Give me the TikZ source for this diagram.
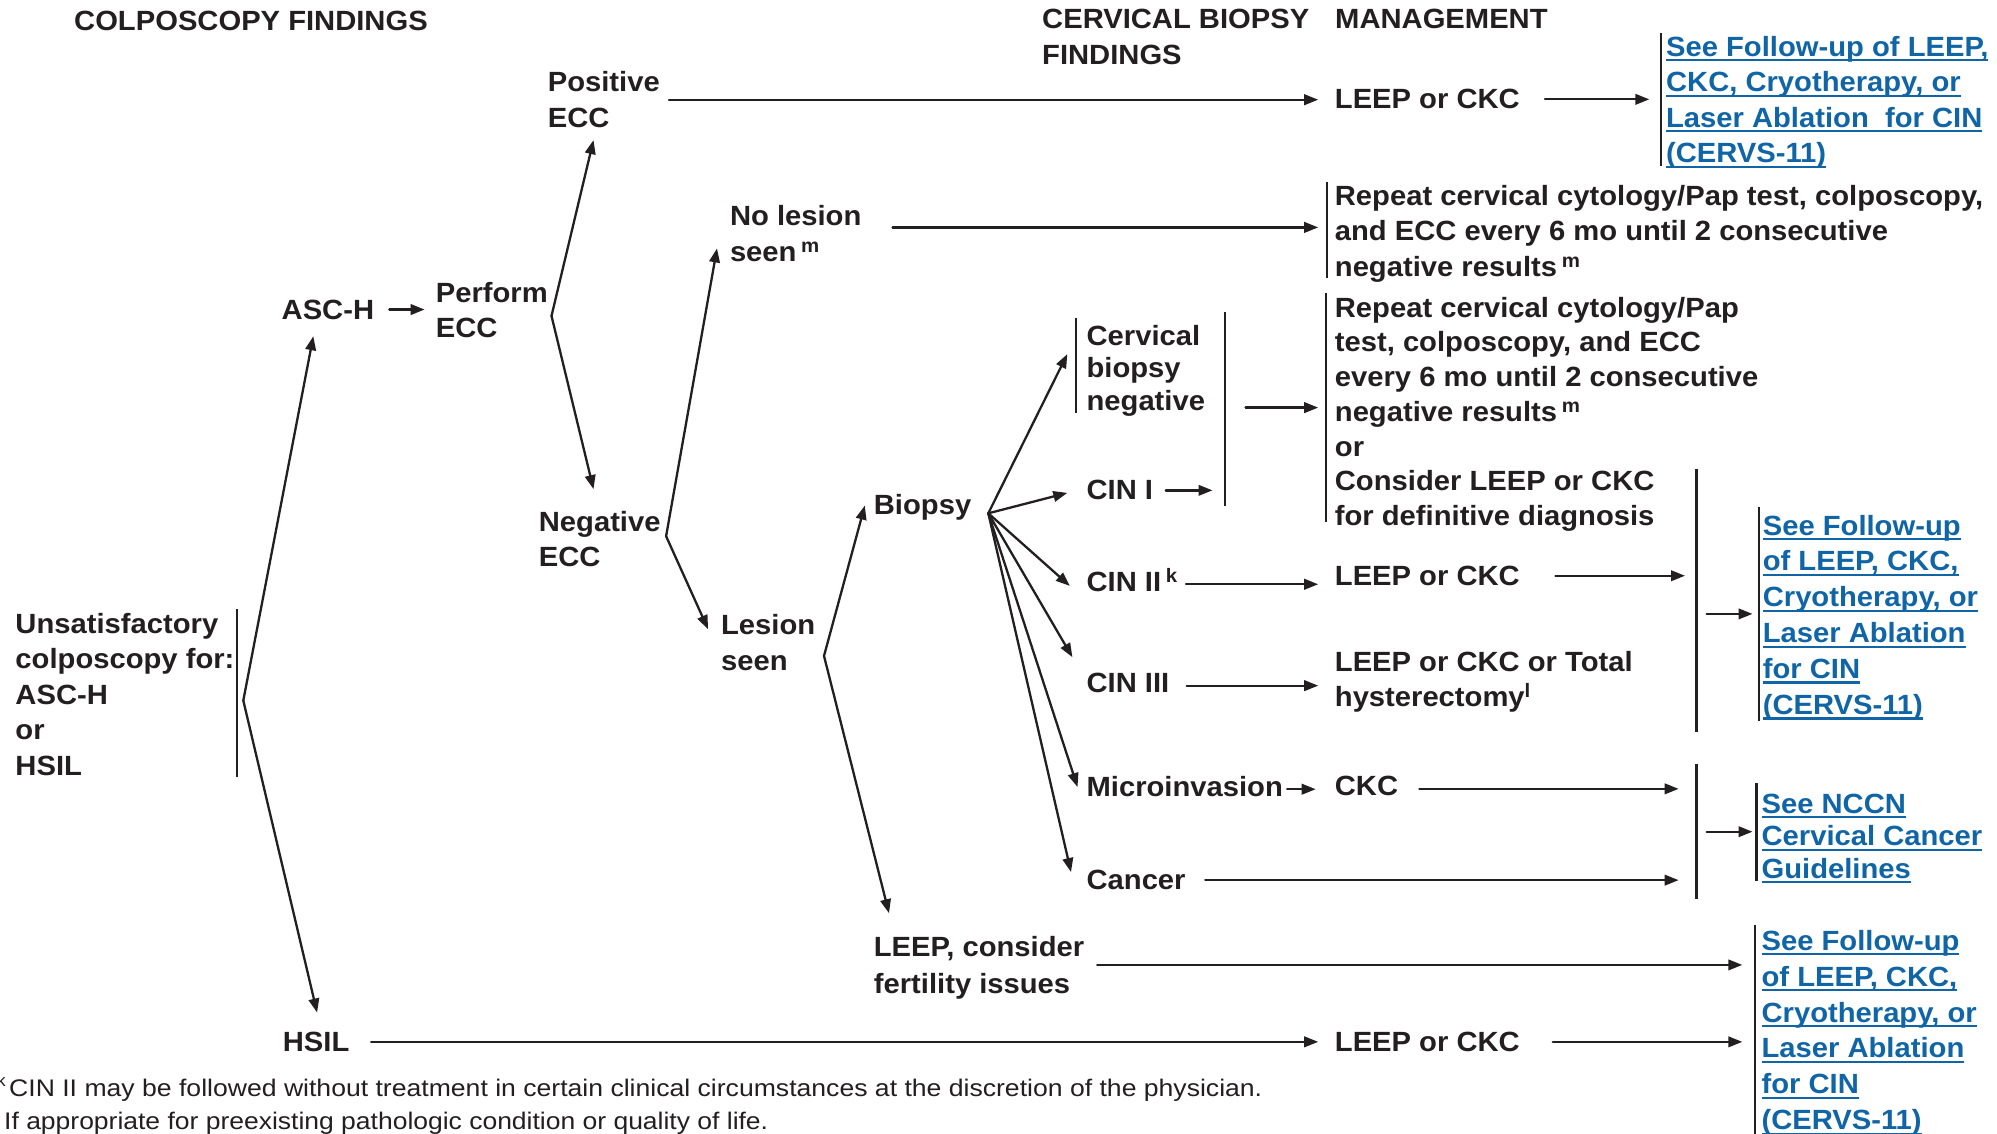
\documentclass[tikz,border=0pt]{standalone}
\usepackage{fontspec}
\setmainfont{Liberation Sans}[FakeStretch=1.05]
\usepackage{graphicx}
\usetikzlibrary{arrows.meta,calc}
\definecolor{ink}{HTML}{231F20}
\definecolor{linkblue}{HTML}{0F65A5}

% underlined cross-reference line
\newcommand{\ulk}[1]{\leavevmode\setbox0\hbox{#1}\rlap{\rule[-5pt]{\wd0}{2.2pt}}\box0}

\tikzset{
  lbl/.style={inner sep=0pt, anchor=north west, align=left, text=ink,
    font=\fontsize{27.8}{35.6}\selectfont\bfseries},
  lbl1/.style={lbl, anchor=base west},
  link/.style={lbl, text=linkblue},
  note/.style={inner sep=0pt, anchor=base west, text=ink,
    font=\fontsize{24}{30}\selectfont},
  flow/.style={draw=ink, line width=2.3pt, line cap=round,
    -{Triangle[length=14pt,width=10.5pt]}},
  brace/.style={draw=ink, line width=2.4pt},
}

\begin{document}
\begin{tikzpicture}[x=1pt,y=-1pt]
\fill[white] (0,0) rectangle (1997,1133);
\useasboundingbox (0,0) rectangle (1997,1133);

% column headings
\node[lbl] (hdrFind) at (74,10.4) {COLPOSCOPY FINDINGS};
\node[lbl] (hdrBiop) at (1042,9.1) {CERVICAL BIOPSY\\FINDINGS};
\node[lbl] (hdrMgmt) at (1335,9.1) {MANAGEMENT};

% colposcopy findings
\node[lbl] (unsat) at (15.3,612.8) {Unsatisfactory\\colposcopy for:\\ASC-H\\or\\HSIL};
\node[lbl] (asch) at (281.5,299.5) {ASC-H};
\node[lbl] (perf) at (435.6,281.7) {Perform\\ECC};
\node[lbl] (posecc) at (547.6,71.5) {Positive\\ECC};
\node[lbl] (negecc) at (538.7,510.9) {Negative\\ECC};
\node[lbl] (noles) at (729.8,205.2) {No lesion\\seen\,\textsuperscript{m}};
\node[lbl] (lesion) at (720.9,614.1) {Lesion\\seen};
\node[lbl] (biopsy) at (873.7,494.3) {Biopsy};
\node[lbl] (hsil) at (282.7,1031.8) {HSIL};
\node[lbl, font=\fontsize{27.8}{36.9}\selectfont\bfseries] (leepcf) at (873.7,936.3) {LEEP, consider\\fertility issues};

% cervical biopsy findings
\node[lbl, font=\fontsize{27.8}{32.5}\selectfont\bfseries] (cbneg) at (1086.4,325) {Cervical\\biopsy\\negative};
\node[lbl] (cin1) at (1086.4,480.3) {CIN I};
\node[lbl1] (cin2) at (1086.4,591.7) {CIN II\,\textsuperscript{k}};
\node[lbl] (cin3) at (1086.4,672.6) {CIN III};
\node[lbl] (micro) at (1086.4,775.8) {Microinvasion};
\node[lbl] (cancer) at (1086.4,870.1) {Cancer};

% management
\node[lbl] (leep1) at (1334.7,89.3) {LEEP or CKC};
\node[lbl] (rep1) at (1334.7,184.9) {Repeat cervical cytology/Pap test, colposcopy,\\and ECC every 6 mo until 2 consecutive\\negative results\,\textsuperscript{m}};
\node[lbl, font=\fontsize{27.8}{34.7}\selectfont\bfseries] (rep2) at (1334.7,296.9) {Repeat cervical cytology/Pap\\test, colposcopy, and ECC\\every 6 mo until 2 consecutive\\negative results\,\textsuperscript{m}\\or\\Consider LEEP or CKC\\for definitive diagnosis};
\node[lbl] (leep2) at (1334.7,565.7) {LEEP or CKC};
\node[lbl] (leep3) at (1334.7,651) {LEEP or CKC or Total\\hysterectomy\textsuperscript{l}};
\node[lbl] (ckc) at (1334.7,775.8) {CKC};
\node[lbl] (leep4) at (1334.7,1031.8) {LEEP or CKC};

% cross-references
\node[link] (link1) at (1665.9,35.8) {\ulk{See Follow-up of LEEP,}\\\ulk{CKC, Cryotherapy, or}\\\ulk{Laser Ablation\ \ for CIN}\\\ulk{(CERVS-11)}};
\node[link, font=\fontsize{27.8}{35.9}\selectfont\bfseries] (link2) at (1762.6,514.7) {\ulk{See Follow-up}\\\ulk{of LEEP, CKC,}\\\ulk{Cryotherapy, or}\\\ulk{Laser Ablation}\\\ulk{for CIN}\\\ulk{(CERVS-11)}};
\node[link, font=\fontsize{27.8}{32.5}\selectfont\bfseries] (link3) at (1761.4,793.6) {\ulk{See NCCN}\\\ulk{Cervical Cancer}\\\ulk{Guidelines}};
\node[link, font=\fontsize{27.8}{35.9}\selectfont\bfseries] (link4) at (1761.4,929.9) {\ulk{See Follow-up}\\\ulk{of LEEP, CKC,}\\\ulk{Cryotherapy, or}\\\ulk{Laser Ablation}\\\ulk{for CIN}\\\ulk{(CERVS-11)}};

% footnotes (their markers run off the left edge)
\node[note] (fnk) at (9,1096) {\llap{\textsuperscript{k}\kern3pt}\resizebox{1253pt}{\height}{CIN II may be followed without treatment in certain clinical circumstances at the discretion of the physician.}};
\node[note] (fnl) at (4,1129) {\llap{\textsuperscript{l}\kern4pt}\resizebox{764pt}{\height}{If appropriate for preexisting pathologic condition or quality of life.}};

% branch points, arrow targets and bracket midpoints
\coordinate (b0) at (243.3,700.5);
\coordinate (tAsch) at (313.3,336.2);
\coordinate (tHsil) at (317.1,1012.5);
\coordinate (b1) at (551.5,315.9);
\coordinate (tPos) at (593.5,140.1);
\coordinate (tNeg) at (593.5,489.1);
\coordinate (b2) at (666.1,536.2);
\coordinate (tNoles) at (717,248.4);
\coordinate (tLes) at (708.1,629.2);
\coordinate (b3) at (824,655.9);
\coordinate (tBiop) at (864.8,505.6);
\coordinate (tLeepcf) at (889,913.2);
\coordinate (b4) at (988.3,513.3);
\coordinate (tCbneg) at (1067.3,354.1);
\coordinate (tCin1) at (1067.3,492.9);
\coordinate (tCin2) at (1069.8,585.9);
\coordinate (tCin3) at (1072.4,657.2);
\coordinate (tMicro) at (1077.5,787);
\coordinate (tCancer) at (1071,872);
\coordinate (k1) at (1660.8,99.3);
\coordinate (k4) at (1225.2,407.6);
\coordinate (k6) at (1696.4,613.9);
\coordinate (k7) at (1758.9,613.9);
\coordinate (k8) at (1696.4,831.7);
\coordinate (k9) at (1756.3,831.7);
\coordinate (k10) at (1755,1041.8);

% brackets
\draw[brace] (236.9,608.8) -- (236.9,776.9);
\draw[brace] (1660.8,33.1) -- (1660.8,165.6);
\draw[brace] (1327.1,182.1) -- (1327.1,277.6);
\draw[brace] (1076.2,318.4) -- (1076.2,412.6);
\draw[brace] (1225.2,312) -- (1225.2,505.6);
\draw[brace] (1325.8,292.9) -- (1325.8,522.2);
\draw[brace] (1696.4,468.7) -- (1696.4,732.3);
\draw[brace] (1758.9,506.9) -- (1758.9,720.9);
\draw[brace] (1696.4,764.2) -- (1696.4,899.2);
\draw[brace] (1756.3,783.3) -- (1756.3,881.3);
\draw[brace] (1755,924.6) -- (1755,1140);

% fan-out arrows
\draw[flow] (b0) -- (tAsch);
\draw[flow] (b0) -- (tHsil);
\draw[flow] (b1) -- (tPos);
\draw[flow] (b1) -- (tNeg);
\draw[flow] (b2) -- (tNoles);
\draw[flow] (b2) -- (tLes);
\draw[flow] (b3) -- (tBiop);
\draw[flow] (b3) -- (tLeepcf);
\foreach \t in {tCbneg,tCin1,tCin2,tCin3,tMicro,tCancer}
  \draw[flow] (b4) -- (\t);

% horizontal arrows
\draw[flow, shorten <=15pt, shorten >=11pt] (asch.east) -- (asch.east -| perf.west);
\draw[flow, shorten <=9pt, shorten >=16.5pt] (posecc.east) -- (posecc.east -| leep1.west);
\draw[flow, shorten <=25pt, shorten >=11.5pt] (leep1.east) -- (leep1.east -| k1);
\draw[flow, shorten <=31pt, shorten >=16.5pt] ($(noles.east)+(0,-6)$) -- ($(noles.east -| rep1.west)+(0,-6)$);
\draw[flow, shorten <=12.5pt, shorten >=12.7pt] (cin1.east) -- (cin1.east -| k4);
\draw[flow, shorten <=20.4pt, shorten >=16.5pt] (k4) -- (k4 -| rep2.west);
\draw[flow, shorten <=8pt, shorten >=16.5pt] ($(cin2.east)+(0,4)$) -- ($(cin2.east -| leep2.west)+(0,4)$);
\draw[flow, shorten <=35.4pt, shorten >=11.4pt] (leep2.east) -- (leep2.east -| k6);
\draw[flow, shorten <=10.2pt, shorten >=6.4pt] (k6) -- (k7);
\draw[flow, shorten <=17.2pt, shorten >=16.5pt] ($(cin3.east)+(0,3)$) -- ($(cin3.east -| leep3.west)+(0,3)$);
\draw[flow, shorten <=4pt, shorten >=19pt] ($(micro.east)+(0,3)$) -- ($(micro.east -| ckc.west)+(0,3)$);
\draw[flow, shorten <=21pt, shorten >=17.8pt] ($(ckc.east)+(0,3)$) -- ($(ckc.east -| k8)+(0,3)$);
\draw[flow, shorten <=19.5pt, shorten >=17.8pt] (cancer.east) -- (cancer.east -| k8);
\draw[flow, shorten <=10.2pt, shorten >=3.8pt] (k8) -- (k9);
\draw[flow, shorten <=12.8pt, shorten >=12.7pt] ($(leepcf.east)+(0,-3)$) -- ($(leepcf.east -| k10)+(0,-3)$);
\draw[flow, shorten <=21.5pt, shorten >=16.5pt] (hsil.east) -- (hsil.east -| leep4.west);
\draw[flow, shorten <=32.8pt, shorten >=12.7pt] (leep4.east) -- (leep4.east -| k10);
\end{tikzpicture}
\end{document}
